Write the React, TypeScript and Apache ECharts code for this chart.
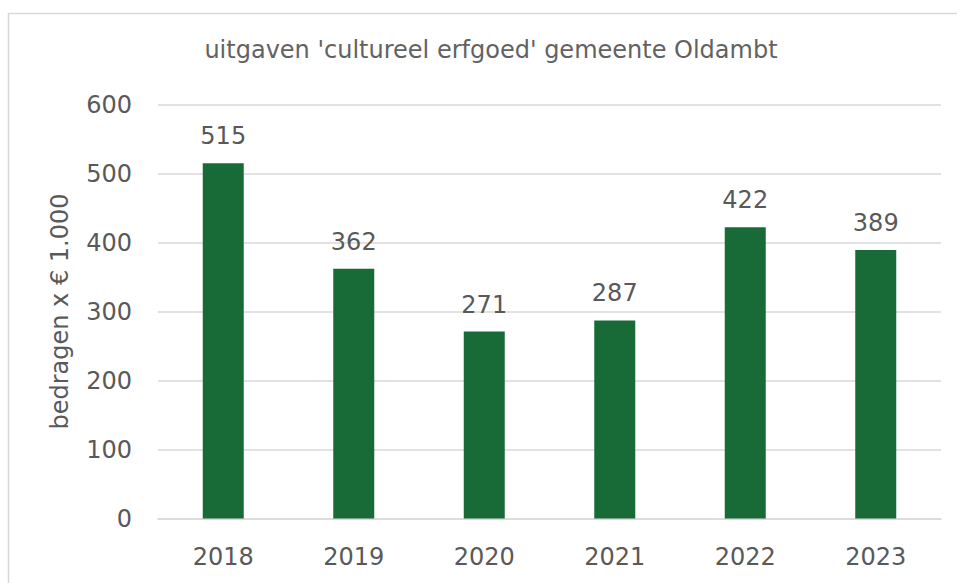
import React, { useEffect, useRef } from "react";
import * as echarts from "echarts";

const years = ["2018", "2019", "2020", "2021", "2022", "2023"];
const amounts = [515, 362, 271, 287, 422, 389];
const titleText = "uitgaven 'cultureel erfgoed' gemeente Oldambt";
const yAxisName = "bedragen x € 1.000";

export default function App() {
  const ref = useRef<HTMLDivElement>(null);
  useEffect(() => {
    if (!ref.current) return;
    const chart = echarts.init(ref.current, undefined, { renderer: "svg" });
    const font = "'DejaVu Sans', sans-serif";
    chart.setOption({
      animation: false,
      backgroundColor: "#ffffff",
      textStyle: { fontFamily: font },
      title: {
        text: titleText,
        left: 486,
        textAlign: "center",
        top: 33,
        textStyle: { color: "#626262", fontSize: 24, fontWeight: "normal", fontFamily: font },
      },
      graphic: [
        {
          type: "rect",
          shape: { x: 8.5, y: 13.5, width: 1000, height: 700 },
          style: { fill: "none", stroke: "#d9d9d9", lineWidth: 1.5 },
          silent: true,
        },
      ],
      grid: { left: 158, right: 16, top: 104.5, bottom: 64.5 },
      xAxis: {
        type: "category",
        data: years,
        axisLine: { show: true, lineStyle: { color: "#d9d9d9", width: 1.5 } },
        axisTick: { show: false },
        axisLabel: { color: "#595959", fontSize: 24, margin: 26, fontFamily: font },
      },
      yAxis: {
        type: "value",
        min: 0,
        max: 600,
        interval: 100,
        name: yAxisName,
        nameLocation: "middle",
        nameGap: 86,
        nameTextStyle: { color: "#595959", fontSize: 24, fontFamily: font },
        axisLine: { show: false },
        axisTick: { show: false },
        axisLabel: { color: "#595959", fontSize: 24, margin: 26, fontFamily: font },
        splitLine: { lineStyle: { color: "#d9d9d9", width: 1.5 } },
      },
      series: [
        {
          type: "bar",
          data: amounts,
          barWidth: 41,
          itemStyle: { color: "#186b37" },
          label: {
            show: true,
            position: "top",
            distance: 15,
            color: "#595959",
            fontSize: 24,
            fontFamily: font,
          },
        },
      ],
    });
    return () => chart.dispose();
  }, []);
  return (
    <div
      ref={ref}
      style={{ position: "absolute", left: 0, top: 0, width: 957, height: 583 }}
    />
  );
}
